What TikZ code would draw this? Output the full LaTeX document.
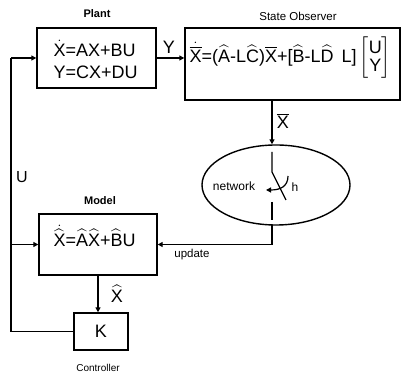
\documentclass[tikz,border=0pt]{standalone}
\usepackage{amsmath}
\usepackage{fontspec}
\setmainfont{Liberation Sans}
\usetikzlibrary{arrows.meta,shapes.geometric}
\newcommand{\HT}[1]{$\widehat{\text{#1}}$}
\newcommand{\BR}[1]{$\overline{\text{#1}}$}
\begin{document}
\begin{tikzpicture}[x=1pt,y=-1pt,line width=1.2pt,
  box/.style={draw,line width=1.4pt,inner sep=0pt},
  arr/.style={-{Triangle[length=5pt,width=5pt]}},
  eq/.style={font=\fontsize{18}{21}\selectfont,inner sep=0pt},
  ttl/.style={font=\fontsize{11}{13}\selectfont\bfseries,inner sep=0pt},
  lbl/.style={font=\fontsize{11}{13}\selectfont,inner sep=0pt}]
\useasboundingbox (0,0) rectangle (408,379);
% boxes
\node[box,minimum width=119pt,minimum height=60pt] (plant) at (96.5,58) {};
\node[box,minimum width=215pt,minimum height=72pt] (obs) at (292.5,64) {};
\node[box,minimum width=118pt,minimum height=61pt] (model) at (98,244.5) {};
\node[box,minimum width=54pt,minimum height=37pt] (K) at (101,331.5) {};
\node[draw,ellipse,line width=1.4pt,minimum width=148pt,minimum height=80pt,inner sep=0pt] (net) at (276,185) {};
% equations
\node[eq,anchor=west] (peq1) at (53,48) {$\dot{\text{X}}$=AX+BU};
\node[eq,anchor=west] (peq2) at (53,72) {Y=CX+DU};
\node[eq,anchor=west] (oeq) at (189,58) {$\dot{\overline{\text{X}}}$=(\HT{A}-L\HT{C})\BR{X}+[\HT{B}-L\HT{D}\, L]\,$\left[\begin{array}{@{}c@{}}\text{U}\\[-3pt]\text{Y}\end{array}\right]$};
\node[eq,anchor=west] (meq) at (53,236) {$\dot{\widehat{\text{X}}}$=\HT{A}\HT{X}+\HT{B}U};
\node[eq] (kt) at (101,331.5) {K};
% titles and labels
\node[ttl] (tplant) at (97,14) {Plant};
\node[lbl,font=\fontsize{11.5}{13}\selectfont] (tobs) at (298,16) {State Observer};
\node[ttl] (tmodel) at (100,201) {Model};
\node[lbl,font=\fontsize{10}{12}\selectfont] (tctrl) at (98,368) {Controller};
\node[eq] (ly) at (169,47) {Y};
\node[eq,font=\fontsize{16}{18}\selectfont] (lu) at (22,177) {U};
\node[eq] (lxb) at (283,121) {\BR{X}};
\node[eq] (lxh) at (117,294) {\HT{X}};
\node[lbl,font=\fontsize{12}{14}\selectfont] (lnet) at (234,186) {network};
\node[lbl,font=\fontsize{12}{14}\selectfont] (lh) at (295,187) {h};
\node[lbl,font=\fontsize{11.5}{13}\selectfont] (lup) at (192,255) {update};
% coordinates
\coordinate (fbT) at (11,58);
\coordinate (fbB) at (11,331.5);
\coordinate (xo) at (272,100);
\coordinate (s1) at (272,152);
\coordinate (s2) at (272,172);
\coordinate (s3) at (286,200);
\coordinate (s4) at (272,202);
\coordinate (s5) at (272,220);
\coordinate (ub) at (272,225);
\coordinate (u1) at (272,244.5);
\coordinate (a1) at (288,176);
\coordinate (a2) at (266,190);
% connectors
\draw[arr] (plant.east) -- (plant.east -| obs.west);
\draw (K.west) -- (fbB) -- (fbT);
\draw[arr] (fbT) -- (plant.west);
\draw[arr] (fbB |- model.west) -- (model.west);
\draw[arr] (xo) -- (xo |- net.north);
\draw (s1) -- (s2) -- (s3);
\draw (s4) -- (s5);
\draw[arr] (a1) .. controls (288,186) and (281,190) .. (a2);
\draw[arr] (ub) -- (u1) -- (model.east);
\draw[arr] (model.south) -- (model.south |- K.north);
\end{tikzpicture}
\end{document}
